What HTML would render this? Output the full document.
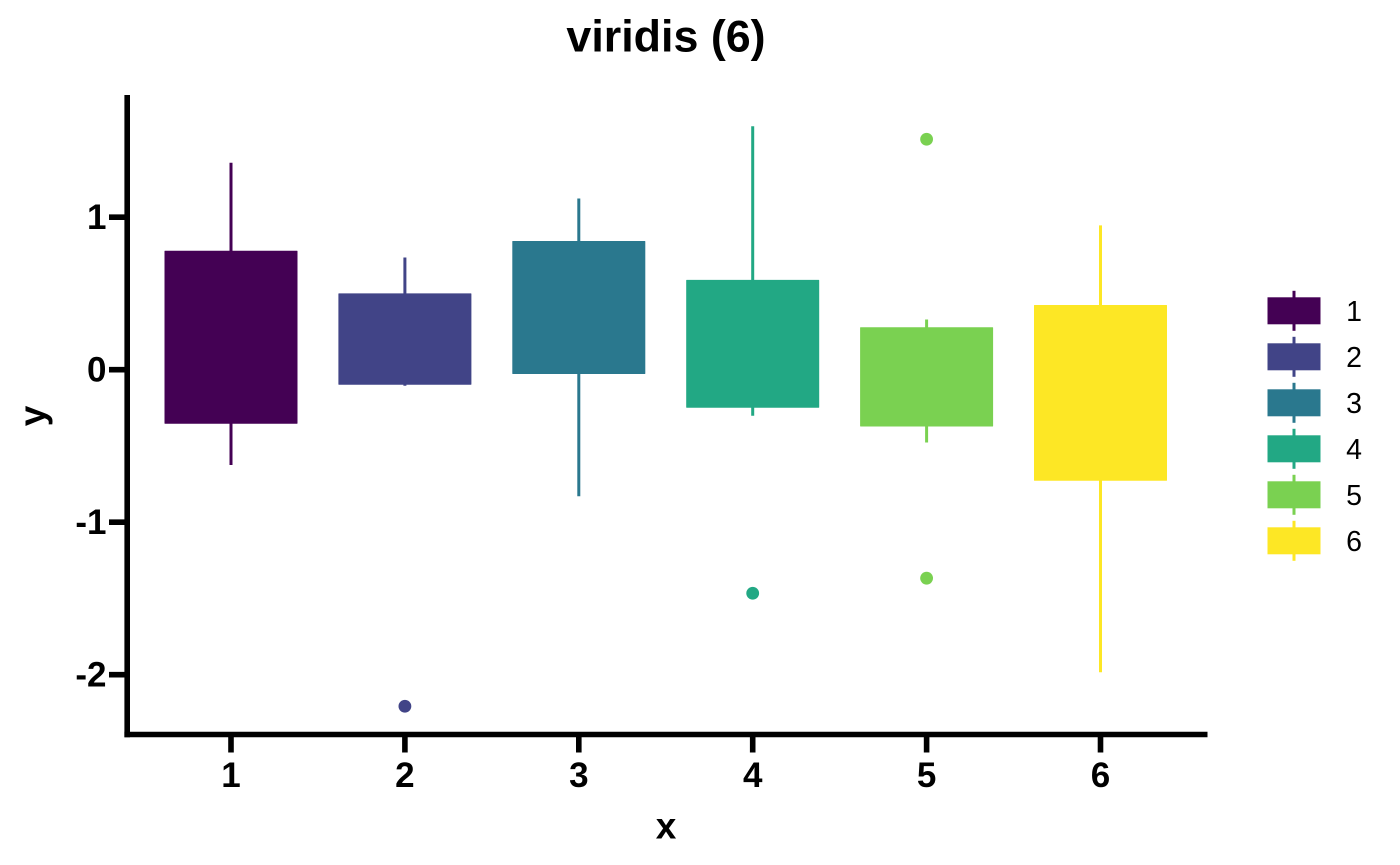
<!DOCTYPE html>
<html>
<head>
<meta charset="utf-8">
<title>viridis (6)</title>
<style>
html,body{margin:0;padding:0;background:#fff;width:1400px;height:865px;overflow:hidden}
svg{display:block}
text{font-family:"Liberation Sans",sans-serif;fill:#000}
.b{font-weight:bold}
</style>
</head>
<body>
<svg id="chart" xmlns="http://www.w3.org/2000/svg" width="1400" height="865" viewBox="0 0 1400 865">
  <rect x="0" y="0" width="1400" height="865" fill="#ffffff"/>
  <text class="b" x="666" y="51.5" font-size="44.8" text-anchor="middle">viridis (6)</text>
  <text class="b" x="666" y="838.5" font-size="37" text-anchor="middle">x</text>
  <text class="b" x="0" y="0" font-size="37" text-anchor="middle" transform="translate(45,416) rotate(-90)">y</text>
  <g id="marks"></g>
  <g id="axes"></g>
  <g id="legend"></g>
</svg>
<script>
const categories = ["1", "2", "3", "4", "5", "6"];
const q3Values = [0.777, 0.497, 0.841, 0.586, 0.275, 0.421];
const q1Values = [-0.351, -0.095, -0.025, -0.246, -0.369, -0.725];
const whiskerHigh = [1.357, 0.736, 1.123, 1.596, 0.329, 0.946];
const whiskerLow = [-0.625, -0.105, -0.830, -0.302, -0.477, -1.984];
const outliers = [[], [-2.207], [], [-1.466], [1.511, -1.367], []];
const seriesColors = ["#440154", "#414487", "#2A788E", "#22A884", "#7AD151", "#FDE725"];
const xTickLabels = ["1", "2", "3", "4", "5", "6"];
const yTickValues = [1, 0, -1, -2];

const NS = "http://www.w3.org/2000/svg";
const marks = document.getElementById("marks");
const axes = document.getElementById("axes");
const legend = document.getElementById("legend");

function xScale(i) { return 231 + 173.9 * i; }
function yScale(v) { return 369.7 - 152.5 * v; }

function make(parent, tag, props) {
  const node = document.createElementNS(NS, tag);
  for (const k in props) node.setAttribute(k, props[k]);
  parent.appendChild(node);
  return node;
}

const boxHalfWidth = 66;

categories.forEach(function (cat, i) {
  const cx = xScale(i);
  const color = seriesColors[i];

  const whisker = make(marks, "line", { x1: cx, x2: cx, y1: yScale(whiskerHigh[i]), y2: yScale(whiskerLow[i]), stroke: color, "stroke-width": 3 });
  
  

  const top = yScale(q3Values[i]);
  const bottom = yScale(q1Values[i]);
  const box = make(marks, "rect", { x: cx - boxHalfWidth, y: top, width: boxHalfWidth * 2, height: bottom - top, fill: color, stroke: color, "stroke-width": 1, "stroke-linejoin": "round" });
  
  

  outliers[i].forEach(function (v) {
    const dot = make(marks, "circle", { cx: cx, cy: yScale(v), r: 6.4, fill: color });
    
    
  });

  const keyY = 310.8 + 46 * i;
  const keyWhisker = make(legend, "line", { x1: 1294, x2: 1294, y1: keyY - 20, y2: keyY + 20, stroke: color, "stroke-width": 3 });
  
  

  const keyBox = make(legend, "rect", { x: 1268, y: keyY - 13, width: 52, height: 26, fill: color, stroke: color, "stroke-width": 1 });
  
  

  const keyLabel = make(legend, "text", { x: 1354, y: keyY + 10, "font-size": 28.5, "text-anchor": "middle" });
  keyLabel.textContent = cat;
  
  
});

const yAxisLine = make(axes, "line", { x1: 127.2, x2: 127.2, y1: 95, y2: 737.3, stroke: "#000", "stroke-width": 5.6 });



const xAxisLine = make(axes, "line", { x1: 124.4, x2: 1207.5, y1: 734.5, y2: 734.5, stroke: "#000", "stroke-width": 5.6 });



yTickValues.forEach(function (v) {
  const y = yScale(v);
  const tick = make(axes, "line", { x1: 109, x2: 127, y1: y, y2: y, stroke: "#000", "stroke-width": 5.6 });
  
  

  const label = make(axes, "text", { x: 106.5, y: y + 12, "font-size": 35, "font-weight": "bold", "text-anchor": "end" });
  label.textContent = String(v);
  
  
});

xTickLabels.forEach(function (lab, i) {
  const x = xScale(i);
  const tick = make(axes, "line", { x1: x, x2: x, y1: 734.5, y2: 752.5, stroke: "#000", "stroke-width": 5.6 });
  
  

  const label = make(axes, "text", { x: x, y: 787, "font-size": 35, "font-weight": "bold", "text-anchor": "middle" });
  label.textContent = lab;
  
  
});
</script>
</body>
</html>
